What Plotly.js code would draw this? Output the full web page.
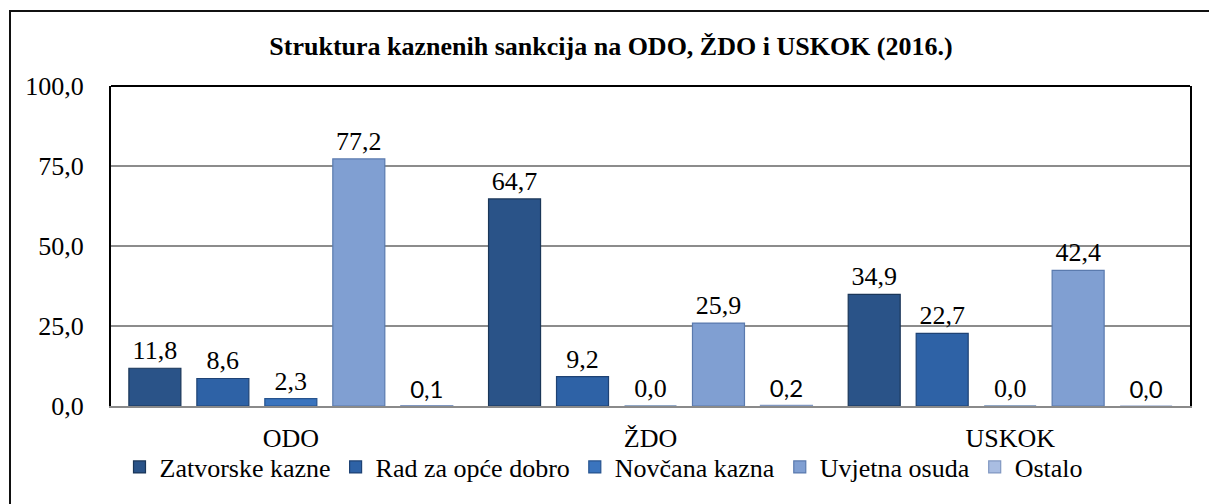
<!DOCTYPE html>
<html>
<head>
<meta charset="utf-8">
<script src="https://cdn.plot.ly/plotly-3.0.1.min.js"></script>
<style>
html,body{margin:0;padding:0;background:#fff;overflow:hidden;}
#chart{width:1209px;height:504px;}
</style>
</head>
<body>
<div id="chart"></div>
<script>
var categories = ['ODO', 'ŽDO', 'USKOK'];
var seriesNames = ['Zatvorske kazne', 'Rad za opće dobro', 'Novčana kazna', 'Uvjetna osuda', 'Ostalo'];
var zatvorske = [11.8, 64.7, 34.9];
var radZaOpceDobro = [8.6, 9.2, 22.7];
var novcanaKazna = [2.3, 0.0, 0.0];
var uvjetnaOsuda = [77.2, 25.9, 42.4];
var ostalo = [0.1, 0.2, 0.0];
var yTicks = [0, 25, 50, 75, 100];

var values = [zatvorske, radZaOpceDobro, novcanaKazna, uvjetnaOsuda, ostalo];
var colors = ['#2a5388', '#2e62a6', '#3a74be', '#809fd2', '#a9bde2'];
var lineColors = ['#1a3658', '#1e4274', '#26538e', '#5a7aae', '#8198c2'];
var SERIF = 'Liberation Serif';

var traces = values.map(function (v, i) {
  var isLast = i === values.length - 1;
  return {
    type: 'bar',
    name: seriesNames[i],
    x: categories,
    y: v,
    marker: {color: colors[i], line: {color: lineColors[i], width: 1.2}},
    texttemplate: '%{y:.1f}',
    textposition: 'outside',
    cliponaxis: false,
    textfont: isLast ? {family: 'Lato', size: 24, color: '#000'}
                     : {family: SERIF, size: 26, color: '#000'},
    hoverinfo: 'x+y+name'
  };
});

// plot area pixel geometry: left 111, right 1190, top 86, bottom 406
var pw = 1079, ph = 320;
function px(x) { return (x - 111) / pw; }
function py(y) { return (406 - y) / ph; }

var layout = {
  width: 1209,
  height: 504,
  margin: {l: 111, r: 19, t: 86, b: 98},
  paper_bgcolor: '#fff',
  plot_bgcolor: '#fff',
  font: {family: SERIF, size: 26, color: '#000'},
  separators: ', ',
  barmode: 'group',
  bargap: 0.055,
  bargroupgap: 0.235,
  showlegend: true,
  title: {
    text: '<b>Struktura kaznenih sankcija na ODO, ŽDO i USKOK (2016.)</b>',
    font: {family: SERIF, size: 26, color: '#000'},
    x: 611 / 1209, xanchor: 'center', xref: 'container',
    y: 1 - 46 / 504, yanchor: 'middle', yref: 'container'
  },
  xaxis: {
    type: 'category',
    showline: true, linecolor: '#8a8a8a', linewidth: 2,
    showgrid: false, zeroline: false,
    ticks: '',
    ticklabelstandoff: 8,
    tickfont: {family: SERIF, size: 26, color: '#000'}
  },
  yaxis: {
    range: [0, 100],
    tickvals: yTicks,
    tickformat: '.1f',
    showgrid: true, gridcolor: '#8c8c8c', gridwidth: 1.5,
    zeroline: false,
    showline: true, linecolor: '#000', linewidth: 2, mirror: true,
    ticks: '',
    ticklabelstandoff: 20,
    tickfont: {family: SERIF, size: 26, color: '#000'}
  },
  legend: {
    orientation: 'h',
    x: px(604), xanchor: 'center',
    y: py(467), yanchor: 'middle',
    bgcolor: 'rgba(0,0,0,0)',
    font: {family: SERIF, size: 26, color: '#000'},
    itemwidth: 30,
    traceorder: 'normal'
  },
  shapes: [
    {type: 'line', xref: 'paper', yref: 'paper', x0: 0, x1: 1, y0: 1, y1: 1,
     line: {color: '#000', width: 2}},
    {type: 'path', xref: 'paper', yref: 'paper',
     path: 'M ' + px(10) + ' ' + py(540) + ' L ' + px(10) + ' ' + py(11) + ' L ' + px(1230) + ' ' + py(11),
     line: {color: '#111', width: 2}}
  ]
};

Plotly.newPlot('chart', traces, layout, {displayModeBar: false, responsive: false});
</script>
</body>
</html>
